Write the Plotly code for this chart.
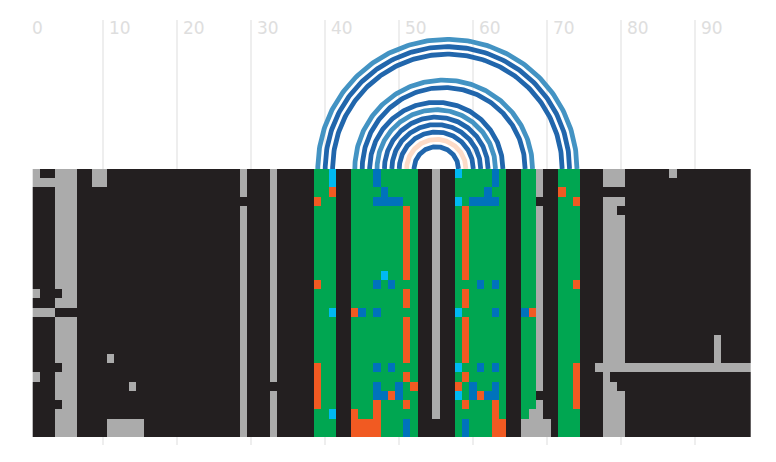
import numpy as np
import plotly.graph_objects as go

# cell codes: 0 black, 1 gap grey, 2 green, 3 orange, 4 blue, 5 cyan
CODE_COLORS = ["#231F20", "#ABABAB", "#00A651", "#F15A22", "#0072BC", "#00B9F2"]
ROWS = [
    "100111 0011000000000000000000 1000100000 22500 22242222200 100 522224200 22100 222000 11100000010000000000",
    "111111 0011000000000000000000 1000100000 22500 22242222200 100 222224200 22100 222000 11100000000000000000",
    "000111 0000000000000000000000 1000100000 22300 22224222200 100 222242200 22100 322000 00000000000000000000",
    "000111 0000000000000000000000 0000100000 32200 22244442200 100 524444200 22000 223000 11100000000000000000",
    "000111 0000000000000000000000 1000100000 22200 22222223200 100 232222200 22100 222000 11000000000000000000",
    "000111 0000000000000000000000 1000100000 22200 22222223200 100 232222200 22100 222000 11100000000000000000",
    "000111 0000000000000000000000 1000100000 22200 22222223200 100 232222200 22100 222000 11100000000000000000",
    "000111 0000000000000000000000 1000100000 22200 22222223200 100 232222200 22100 222000 11100000000000000000",
    "000111 0000000000000000000000 1000100000 22200 22222223200 100 232222200 22100 222000 11100000000000000000",
    "000111 0000000000000000000000 1000100000 22200 22222223200 100 232222200 22100 222000 11100000000000000000",
    "000111 0000000000000000000000 1000100000 22200 22222223200 100 232222200 22100 222000 11100000000000000000",
    "000111 0000000000000000000000 1000100000 22200 22225223200 100 232222200 22100 222000 11100000000000000000",
    "000111 0000000000000000000000 1000100000 32200 22242422200 100 222424200 22100 223000 11100000000000000000",
    "100011 0000000000000000000000 1000100000 22200 22222223200 100 232222200 22100 222000 11100000000000000000",
    "000111 0000000000000000000000 1000100000 22200 22222223200 100 232222200 22100 222000 11100000000000000000",
    "111000 0000000000000000000000 1000100000 22500 34242222200 100 522224200 43100 222000 11100000000000000000",
    "000111 0000000000000000000000 1000100000 22200 22222223200 100 232222200 22100 222000 11100000000000000000",
    "000111 0000000000000000000000 1000100000 22200 22222223200 100 232222200 22100 222000 11100000000000000000",
    "000111 0000000000000000000000 1000100000 22200 22222223200 100 232222200 22100 222000 11100000000000010000",
    "000111 0000000000000000000000 1000100000 22200 22222223200 100 232222200 22100 222000 11100000000000010000",
    "000111 0000100000000000000000 1000100000 22200 22222223200 100 232222200 22100 222000 11100000000000010000",
    "000011 0000000000000000000000 1000100000 32200 22242422200 100 522424200 22100 223001 11111111111111111111",
    "100111 0000000000000000000000 1000100000 32200 22222223200 100 232222200 22100 223000 10000000000000000000",
    "000111 0000000100000000000000 1000000000 32200 22242242300 100 324224200 22100 223000 11000000000000000000",
    "000111 0000000000000000000000 1000100000 32200 22244342200 100 524344200 22000 223000 11100000000000000000",
    "000011 0000000000000000000000 1000100000 32200 22232223200 100 232223200 22100 223000 11100000000000000000",
    "000111 0000000000000000000000 1000100000 22500 32232222200 100 222223200 21100 222000 11100000000000000000",
    "000111 0000111110000000000000 1000100000 22200 33332224200 000 242223300 11110 222000 11100000000000000000",
    "000111 0000111110000000000000 1000100000 22200 33332224200 000 242223300 11110 222000 11100000000000000000",
]
PAIR_LEFT = [39, 40, 41, 44, 45, 46, 47, 48, 49, 50, 51, 52]
PAIR_RIGHT = [74, 73, 72, 68, 67, 64, 63, 62, 61, 60, 59, 58]
PAIR_COLORS = ["#4393C3", "#2166AC", "#2166AC", "#4393C3", "#2166AC", "#2166AC",
               "#4393C3", "#2166AC", "#2166AC", "#2166AC", "#FDDBC7", "#2166AC"]
TICKS = [0, 10, 20, 30, 40, 50, 60, 70, 80, 90]

z = [[int(ch) for ch in row.replace(" ", "")] for row in ROWS]
assert all(len(r) == 97 for r in z), [len(r) for r in z]

# the page puts the figure 8 px in from the window's top left
W, H = 760, 446
L, T = 20.5, 12
R = W - 743.0
B = H - 437.0
PH = H - T - B
PW = W - L - R
XMAX = 97.5
PX = PW / XMAX
BASE = 161
ROWH = 9.24
dom = (T + PH - BASE) / PH

n = len(CODE_COLORS)
cs = []
for i, c in enumerate(CODE_COLORS):
    cs += [[i / n, c], [(i + 1) / n, c]]

fig = go.Figure()
fig.add_trace(go.Heatmap(z=z, x=list(range(1, 98)), y=list(range(len(z))),
                         zmin=0, zmax=n, colorscale=cs, showscale=False, hoverinfo="skip",
                         xaxis="x", yaxis="y"))
theta = np.linspace(0, np.pi, 181)
for a, b, c in zip(PAIR_LEFT, PAIR_RIGHT, PAIR_COLORS):
    mid, rad = (a + b) / 2, (b - a) / 2
    fig.add_trace(go.Scatter(x=mid + rad * np.cos(theta), y=rad * np.sin(theta), mode="lines",
                             line=dict(color=c, width=4.8), hoverinfo="skip",
                             xaxis="x", yaxis="y2", showlegend=False))
for t in TICKS:
    fig.add_annotation(x=t, xref="x", y=1 - (20 - T) / PH, yref="paper", yanchor="middle",
                       xanchor="left", xshift=3.5 if t else 0.5, text=str(t), showarrow=False,
                       font=dict(family="DejaVu Sans", size=17, color="#DEDEDE"))
fig.update_layout(
    width=W, height=H, margin=dict(l=L, r=R, t=T, b=B), paper_bgcolor="white", plot_bgcolor="white",
    showlegend=False,
    xaxis=dict(range=[0, XMAX], tickvals=TICKS, showticklabels=False, showgrid=True,
               gridcolor="#EEEEEE", gridwidth=1.6, zeroline=False, showline=False, ticks=""),
    yaxis=dict(domain=[0, dom], range=[-0.5 + PH * dom / ROWH, -0.5], showgrid=False,
               zeroline=False, showticklabels=False, ticks=""),
    yaxis2=dict(domain=[dom, 1], range=[0, PH * (1 - dom) / PX], anchor="x", showgrid=False,
                zeroline=False, showticklabels=False, ticks=""),
)
fig.write_html("out.html")
